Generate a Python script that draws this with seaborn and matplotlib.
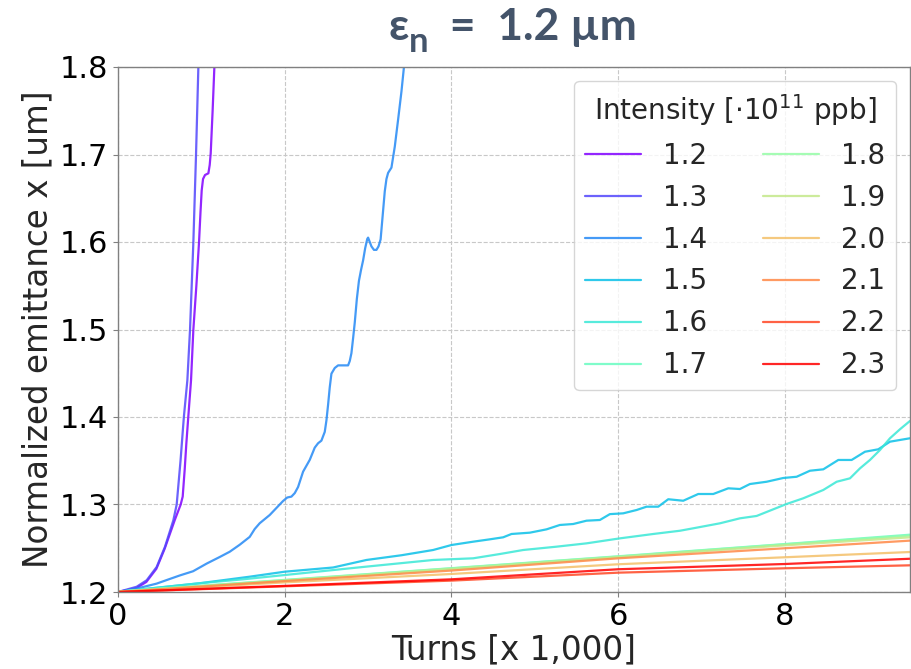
import numpy as np
import pandas as pd
import matplotlib
matplotlib.use("Agg")
import matplotlib.pyplot as plt
from matplotlib.lines import Line2D
import seaborn as sns

# Bunch intensities [1e11 ppb]
intensities = ["1.2", "1.3", "1.4", "1.5", "1.6", "1.7",
               "1.8", "1.9", "2.0", "2.1", "2.2", "2.3"]

# Turns [x 1,000] and normalized horizontal emittance [um] per intensity
turns_12 = [0, 0.22, 0.34, 0.46, 0.56, 0.68, 0.752, 0.776, 0.80, 0.82, 0.843,
            0.876, 0.904, 0.94, 0.972, 0.99, 1.004, 1.02, 1.044, 1.084, 1.10,
            1.112, 1.135, 1.156, 1.17]
emit_12 = [1.2, 1.2045, 1.2115, 1.2265, 1.2495, 1.282, 1.30, 1.309, 1.34, 1.37,
           1.40, 1.442, 1.50, 1.55, 1.60, 1.635, 1.659, 1.672, 1.6766, 1.6785,
           1.688, 1.7013, 1.75, 1.80, 1.84]

turns_13 = [0, 0.224, 0.344, 0.464, 0.564, 0.664, 0.704, 0.75, 0.79, 0.832,
            0.864, 0.904, 0.936, 0.964, 0.975]
emit_13 = [1.2, 1.206, 1.2134, 1.2286, 1.2518, 1.282, 1.30, 1.35, 1.40, 1.442,
           1.50, 1.60, 1.70, 1.80, 1.84]

turns_14 = [0, 0.224, 0.464, 0.60, 0.744, 0.90, 1.064, 1.22, 1.34, 1.46, 1.58,
            1.64, 1.70, 1.82, 1.92, 1.98, 2.03, 2.08, 2.12, 2.16, 2.22, 2.30,
            2.36, 2.40, 2.44, 2.48, 2.50, 2.52, 2.54, 2.56, 2.60, 2.64, 2.76,
            2.78, 2.80, 2.82, 2.84, 2.865, 2.89, 2.915, 2.94, 2.965, 2.99,
            3.00, 3.02, 3.04, 3.07, 3.10, 3.125, 3.15, 3.17, 3.20, 3.22, 3.24,
            3.28, 3.32, 3.36, 3.40, 3.43, 3.45]
emit_14 = [1.2, 1.2039, 1.2096, 1.2142, 1.219, 1.2237, 1.2325, 1.240, 1.246,
           1.254, 1.263, 1.272, 1.2786, 1.288, 1.298, 1.304, 1.308, 1.309,
           1.313, 1.320, 1.3375, 1.351, 1.365, 1.370, 1.373, 1.383, 1.396,
           1.414, 1.434, 1.4495, 1.456, 1.459, 1.459, 1.464, 1.473, 1.49,
           1.508, 1.535, 1.5556, 1.568, 1.579, 1.593, 1.6035, 1.605, 1.600,
           1.595, 1.591, 1.591, 1.595, 1.603, 1.625, 1.658, 1.672, 1.679,
           1.685, 1.709, 1.740, 1.772, 1.80, 1.83]

turns_15 = [0, 0.38, 0.98, 1.58, 2.0, 2.58, 2.98, 3.4, 3.78, 4.0, 4.26, 4.46,
            4.62, 4.72, 4.94, 5.14, 5.30, 5.46, 5.62, 5.78, 5.90, 6.06, 6.22,
            6.34, 6.48, 6.60, 6.78, 6.96, 7.14, 7.32, 7.46, 7.58, 7.78, 7.98,
            8.14, 8.30, 8.46, 8.64, 8.80, 8.96, 9.12, 9.26, 9.5]
emit_15 = [1.2, 1.204, 1.21, 1.2175, 1.2232, 1.228, 1.2366, 1.242, 1.248,
           1.2537, 1.2575, 1.2602, 1.2625, 1.2663, 1.2678, 1.2716, 1.2766,
           1.2777, 1.2815, 1.2823, 1.289, 1.2899, 1.2937, 1.2975, 1.2975,
           1.306, 1.3043, 1.312, 1.312, 1.3185, 1.3177, 1.3234, 1.326, 1.3303,
           1.3317, 1.3386, 1.3402, 1.3509, 1.3509, 1.3603, 1.3631, 1.3718, 1.3757]

turns_16 = [0, 0.38, 0.98, 1.5, 2.0, 2.98, 3.78, 4.26, 4.58, 4.86, 5.26, 5.62,
            6.02, 6.42, 6.74, 6.90, 7.22, 7.46, 7.66, 7.86, 8.02, 8.22, 8.46,
            8.62, 8.78, 8.90, 9.02, 9.14, 9.26, 9.38, 9.5]
emit_16 = [1.2, 1.204, 1.21, 1.2145, 1.2194, 1.229, 1.2366, 1.2385, 1.2434,
           1.248, 1.2518, 1.2556, 1.2613, 1.2663, 1.270, 1.2728, 1.2785,
           1.2842, 1.2869, 1.2945, 1.3006, 1.3071, 1.3166, 1.326, 1.3299,
           1.3413, 1.3509, 1.3623, 1.3757, 1.386, 1.3955]

turns_17 = [0, 2, 4, 6, 8, 9.5]
emit_17 = [1.2005, 1.2138, 1.2272, 1.2408, 1.2548, 1.2655]

turns_18 = [0, 2, 4, 6, 8, 9.5]
emit_18 = [1.2005, 1.2135, 1.227, 1.2405, 1.2545, 1.2645]

turns_19 = [0, 2, 4, 6, 8, 9.5]
emit_19 = [1.2003, 1.213, 1.2262, 1.2398, 1.2533, 1.2625]

turns_20 = [0, 2, 4, 6, 8, 9.5]
emit_20 = [1.2, 1.211, 1.2206, 1.2317, 1.2397, 1.2457]

turns_21 = [0, 2, 4, 6, 8, 9.5]
emit_21 = [1.2, 1.2125, 1.2245, 1.2385, 1.25, 1.2587]

turns_22 = [0, 2, 4, 6, 8, 9.5]
emit_22 = [1.2, 1.2065, 1.213, 1.2221, 1.2271, 1.2305]

turns_23 = [0, 2, 4, 6, 8, 9.5]
emit_23 = [1.2, 1.207, 1.2145, 1.226, 1.232, 1.238]

series = {
    "1.2": (turns_12, emit_12), "1.3": (turns_13, emit_13),
    "1.4": (turns_14, emit_14), "1.5": (turns_15, emit_15),
    "1.6": (turns_16, emit_16), "1.7": (turns_17, emit_17),
    "1.8": (turns_18, emit_18), "1.9": (turns_19, emit_19),
    "2.0": (turns_20, emit_20), "2.1": (turns_21, emit_21),
    "2.2": (turns_22, emit_22), "2.3": (turns_23, emit_23),
}

df = pd.concat(
    [pd.DataFrame({"turns": t, "emittance": e, "intensity": k})
     for k, (t, e) in series.items()],
    ignore_index=True,
)

sns.set_style("white")
plt.rcParams.update({
    "font.family": ["DejaVu Sans"],
    "axes.edgecolor": "#808080",
    "axes.linewidth": 1.0,
    "xtick.color": "#808080",
    "ytick.color": "#808080",
    "xtick.labelcolor": "black",
    "ytick.labelcolor": "black",
    "xtick.bottom": True,
    "ytick.left": True,
    "xtick.major.size": 3.5,
    "ytick.major.size": 3.5,
})

colors = [plt.get_cmap("rainbow")(v) for v in np.linspace(0, 1, len(intensities))]
palette = dict(zip(intensities, colors))

fig = plt.figure(figsize=(9.12, 6.69), dpi=100)
ax = fig.add_axes([118 / 912, 77 / 669, 792 / 912, 525 / 669])

sns.lineplot(data=df, x="turns", y="emittance", hue="intensity",
             hue_order=intensities, palette=palette, estimator=None,
             sort=False, linewidth=1.6, alpha=0.85, legend=False, ax=ax)

ax.set_xlim(0, 9.5)
ax.set_ylim(1.2, 1.8)
ax.set_xticks([0, 2, 4, 6, 8])
ax.set_yticks([1.2, 1.3, 1.4, 1.5, 1.6, 1.7, 1.8])
ax.grid(True, linestyle="--", color="#c8c8c8", linewidth=0.8)
ax.tick_params(labelsize=22)
ax.set_xlabel("Turns [x 1,000]", fontsize=23.5, labelpad=2)
ax.set_ylabel("Normalized emittance x [um]", fontsize=23.5)

handles = [Line2D([], [], color=palette[k], lw=1.6, alpha=0.85) for k in intensities]
ax.legend(handles, intensities, title=r"Intensity [$\cdot10^{11}$ ppb]",
          ncol=2, fontsize=20, title_fontsize=20, loc="upper right")

# Title: epsilon with subscript n, assembled from three text pieces
title_kw = dict(family=["Lato", "Open Sans", "DejaVu Sans"], weight="bold",
                color="#44546A")
y_base = (669 - 40) / 669
t1 = fig.text(0.43, y_base, "ε", fontsize=32, ha="left", va="baseline", **title_kw)
t2 = fig.text(0.45, y_base, "n", fontsize=25, ha="left", va="baseline", **title_kw)
t3 = fig.text(0.47, y_base, "  =  1.2 µm", fontsize=32, ha="left", va="baseline", **title_kw)

fig.canvas.draw()
r = fig.canvas.get_renderer()
w1 = t1.get_window_extent(r).width
w2 = t2.get_window_extent(r).width
w3 = t3.get_window_extent(r).width
total = w1 + w2 + w3
left = 513 - total / 2
sub_drop = 11.5 / 669
t1.set_position((left / 912, y_base))
t2.set_position(((left + w1) / 912, y_base - sub_drop))
t3.set_position(((left + w1 + w2) / 912, y_base))

fig.savefig("out.png", dpi=100)
